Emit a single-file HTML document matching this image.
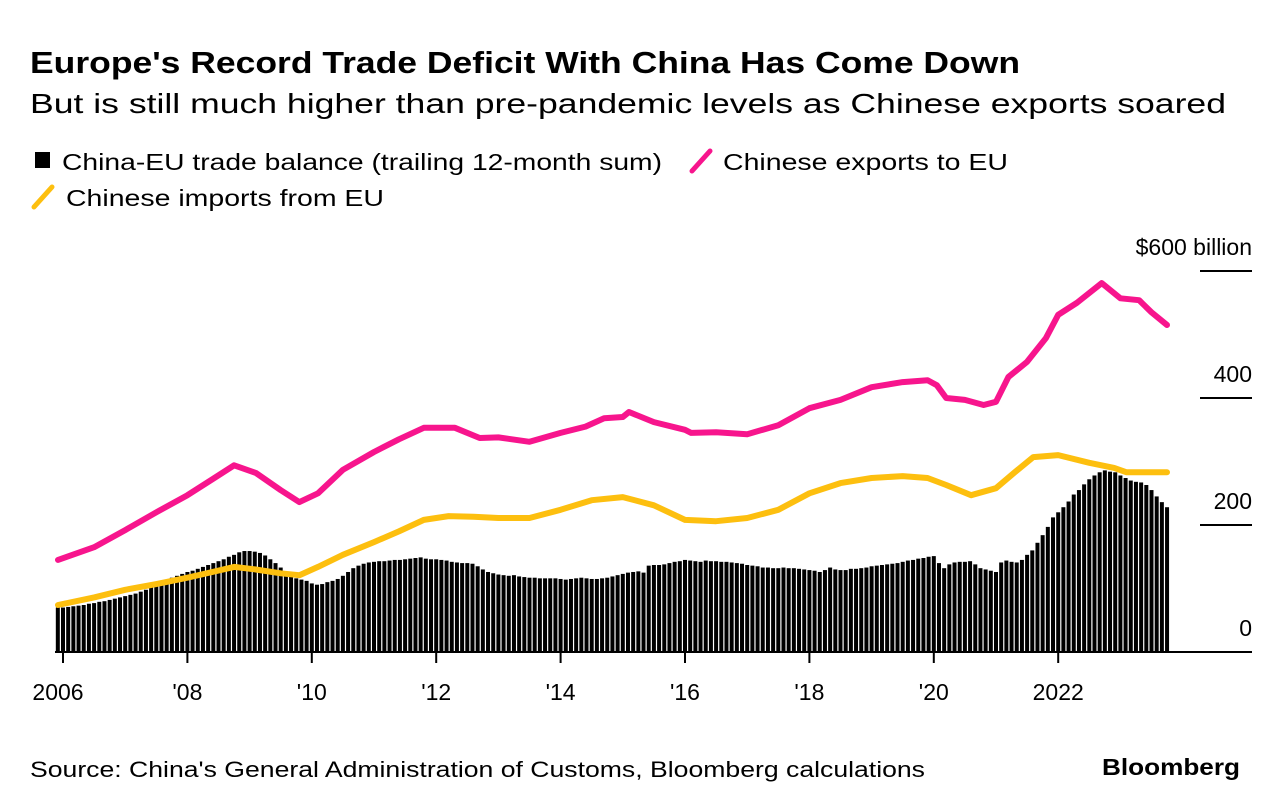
<!DOCTYPE html>
<html><head><meta charset="utf-8"><style>
html,body{margin:0;padding:0;background:#fff;}
svg{display:block;font-family:"Liberation Sans",Arial,sans-serif;}
</style></head><body>
<svg id="chart" width="1280" height="808" viewBox="0 0 1280 808">
<text x="30" y="73" font-size="31" font-weight="bold" textLength="990" lengthAdjust="spacingAndGlyphs">Europe's Record Trade Deficit With China Has Come Down</text>
<text x="30" y="113" font-size="28" textLength="1196" lengthAdjust="spacingAndGlyphs">But is still much higher than pre-pandemic levels as Chinese exports soared</text>
<g>
<g>
<rect x="35" y="152" width="15" height="16" fill="#000"/>
<text x="62" y="170" font-size="23" textLength="600" lengthAdjust="spacingAndGlyphs">China-EU trade balance (trailing 12-month sum)</text>
</g>
<g>
<line x1="692" y1="171" x2="710" y2="151" stroke="#f7158d" stroke-width="5" stroke-linecap="round"/>
<text x="723" y="170" font-size="23" textLength="285" lengthAdjust="spacingAndGlyphs">Chinese exports to EU</text>
</g>
<g>
<line x1="34" y1="207" x2="52" y2="187" stroke="#fdbf0f" stroke-width="5" stroke-linecap="round"/>
<text x="66" y="206" font-size="23" textLength="318" lengthAdjust="spacingAndGlyphs">Chinese imports from EU</text>
</g>
</g>
<g id="grid"></g>
<g id="bars"></g>
<g id="lines"></g>
<g id="xaxis"></g>
<g id="yaxis"></g>
<text x="30" y="777" font-size="22" textLength="895" lengthAdjust="spacingAndGlyphs">Source: China's General Administration of Customs, Bloomberg calculations</text>
<text x="1240" y="775" font-size="23" font-weight="bold" text-anchor="end" textLength="138" lengthAdjust="spacingAndGlyphs">Bloomberg</text>
</svg>
<script>
// data
const barStart = 2005 + 11/12; // Dec 2005
const balanceValues = [70,
70,71,72,73,74,76,77,79,80,82,84,86,
88,90,92,95,98,102,106,110,114,117,120,123,
126,128,131,134,137,140,143,146,150,153,157,159,
159,158,156,152,146,140,133,126,120,116,114,112,
108,106,107,110,112,115,120,126,132,136,139,141,
142,143,143,144,145,145,146,147,148,149,147,146,
146,145,144,142,141,140,140,139,135,130,126,124,
122,121,120,121,119,118,117,117,116,116,116,116,
115,114,115,116,117,116,115,115,116,117,119,121,
123,125,126,127,125,136,137,137,138,140,142,143,
145,144,143,142,144,143,143,142,142,141,140,139,
137,136,135,133,133,132,132,133,132,132,131,130,
129,128,126,129,133,130,129,129,131,131,132,133,
135,136,137,138,139,140,142,144,145,147,148,150,
151,140,132,138,141,142,142,143,138,132,130,128,
126,141,144,142,141,145,153,160,172,184,197,212,
220,228,237,248,255,264,272,278,283,286,284,283,
278,274,270,268,267,263,255,245,236,228];
const exportDates = [2005.92,2006.5,2007,2007.5,2008,2008.4,2008.75,2009.1,2009.5,2009.8,2010.1,2010.5,2011,2011.4,2011.8,2012.3,2012.7,2013,2013.5,2014,2014.4,2014.7,2015.0,2015.1,2015.5,2016,2016.1,2016.5,2017,2017.5,2018,2018.5,2019,2019.5,2019.9,2020.05,2020.2,2020.5,2020.8,2021,2021.2,2021.5,2021.8,2022,2022.3,2022.7,2023,2023.3,2023.5,2023.75];
const exportValues = [145,165,192,220,247,272,294,282,255,236,250,287,315,335,353,353,337,338,331,345,355,368,370,378,362,350,345,346,343,357,384,397,417,425,428,420,400,397,389,394,433,457,494,531,550,581,557,554,535,515];
const importDates = [2005.92,2006.5,2007,2007.5,2008,2008.4,2008.75,2009.1,2009.5,2009.8,2010.1,2010.5,2011,2011.4,2011.8,2012.2,2012.6,2013,2013.5,2014,2014.5,2015,2015.5,2016,2016.5,2017,2017.5,2018,2018.5,2019,2019.5,2019.9,2020.2,2020.6,2021,2021.3,2021.6,2022,2022.5,2022.9,2023.1,2023.5,2023.75];
const importValues = [74,86,98,107,117,126,134,130,124,121,134,153,173,190,208,214,213,211,211,224,239,244,231,208,206,211,224,250,266,274,277,274,263,247,258,283,307,310,298,290,283,283,283];
const yTicks = [0,200,400,600];
const yTickLabels = ["0","200","400","$600 billion"];
const xTicks = [2006,2008,2010,2012,2014,2016,2018,2020,2022];
const xTickLabels = ["2006","'08","'10","'12","'14","'16","'18","'20","2022"];

const NS = "http://www.w3.org/2000/svg";
const x = t => 63 + (t - 2006) * 62.2;
const y = v => 652 - v * 0.635;
function mk(tag, attrs, parent){const e=document.createElementNS(NS,tag);for(const k in attrs)e.setAttribute(k,attrs[k]);parent.appendChild(e);return e;}

const grid=document.getElementById('grid');
yTicks.forEach((v,i)=>{
  if(v===0) return;
  const l=mk('line',{x1:1200,x2:1252,y1:y(v),y2:y(v),stroke:'#000','stroke-width':2},grid);
  
  
});
const bars=document.getElementById('bars');
balanceValues.forEach((v,i)=>{
  const t=barStart+i/12;
  const r=mk('rect',{x:x(t)-2,y:y(v),width:4,height:y(0)-y(v),fill:'#000'},bars);
  
  
});
const lines=document.getElementById('lines');
function path(ds,vs){return ds.map((d,i)=>(i?'L':'M')+x(d).toFixed(1)+','+y(vs[i]).toFixed(1)).join(' ');}
const imp=mk('path',{d:path(importDates,importValues),fill:'none',stroke:'#fdbf0f','stroke-width':6,'stroke-linejoin':'round','stroke-linecap':'round'},lines);


const exp=mk('path',{d:path(exportDates,exportValues),fill:'none',stroke:'#f7158d','stroke-width':6,'stroke-linejoin':'round','stroke-linecap':'round'},lines);



const xa=document.getElementById('xaxis');
const base=mk('line',{x1:55,x2:1252,y1:652,y2:652,stroke:'#000','stroke-width':2},xa);


xTicks.forEach((t,i)=>{
  const tk=mk('line',{x1:x(t),x2:x(t),y1:652,y2:663,stroke:'#000','stroke-width':2},xa);
  
  
  const tx=mk('text',{x:i===0?x(t)-5:x(t),y:700,'font-size':23,'text-anchor':'middle'},xa);
  tx.textContent=xTickLabels[i];
  
  
});
const ya=document.getElementById('yaxis');
yTicks.forEach((v,i)=>{
  const tx=mk('text',{x:1252,y:y(v)-16,'font-size':23,'text-anchor':'end'},ya);
  tx.textContent=yTickLabels[i];
  
  
});
</script>
</body></html>
